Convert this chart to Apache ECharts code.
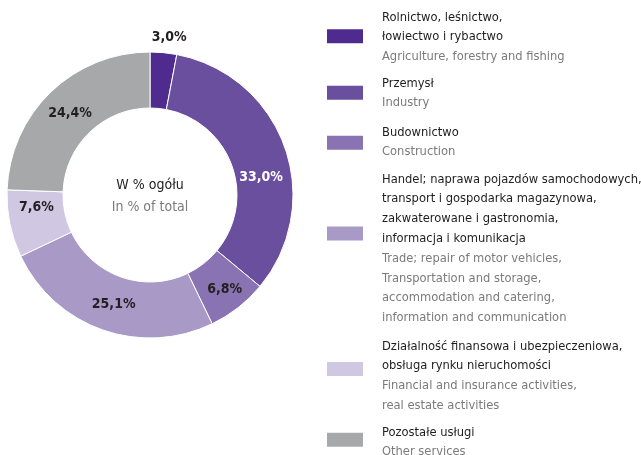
<!DOCTYPE html>
<html>
<head>
<meta charset="utf-8">
<script src="https://cdn.jsdelivr.net/npm/echarts@6/dist/echarts.min.js"></script>
<style>
  html, body { margin: 0; padding: 0; background: #fff; }
  #chart { width: 641px; height: 455px; }
</style>
</head>
<body>
<div id="chart"></div>
<script>
// Sectors: Polish names (legend lines), English names, shares in % and colours
const namesPl = [
  ['Rolnictwo, leśnictwo,', 'łowiectwo i rybactwo'],
  ['Przemysł'],
  ['Budownictwo'],
  ['Handel; naprawa pojazdów samochodowych,', 'transport i gospodarka magazynowa,', 'zakwaterowane i gastronomia,', 'informacja i komunikacja'],
  ['Działalność finansowa i ubezpieczeniowa,', 'obsługa rynku nieruchomości'],
  ['Pozostałe usługi']
];
const namesEn = [
  ['Agriculture, forestry and fishing'],
  ['Industry'],
  ['Construction'],
  ['Trade; repair of motor vehicles,', 'Transportation and storage,', 'accommodation and catering,', 'information and communication'],
  ['Financial and insurance activities,', 'real estate activities'],
  ['Other services']
];
const shares = [3.0, 33.0, 6.8, 25.1, 7.6, 24.4];
const colors = ['#4f2b8f', '#6a4f9f', '#8a73b2', '#a899c7', '#d0c8e2', '#a7a8aa'];

const centerTitlePl = 'W % ogółu';
const centerTitleEn = 'In % of total';

const FONT = '"DejaVu Sans Condensed", "Liberation Sans Narrow", sans-serif';
const LINE_H = 19.8;

const keys = namesPl.map(n => n.join(' '));
const fmt = v => v.toFixed(1).replace('.', ',') + '%';

// per-slice label tweaks
const labelTweaks = [
  { position: 'outside', offset: [-17, -13] },
  { color: '#ffffff', offset: [0, 22] },
  { offset: [2, 1] },
  { offset: [3, -2] },
  { offset: [2, -11] },
  { offset: [2, 3] }
];

const data = shares.map((v, i) => {
  const t = labelTweaks[i];
  const item = {
    name: keys[i],
    value: v,
    itemStyle: { color: colors[i] },
    label: Object.assign({}, t)
  };
  if (t.position === 'outside') {
    item.labelLine = { show: false, length: 2, length2: 0 };
  }
  return item;
});

// Legend blocks: top of each block and padding that sets where the swatch sits
const legendLayout = [
  { top: 10.7, pt: 1.6, pb: 0 },
  { top: 76.7, pt: 0.8, pb: 0 },
  { top: 125.7, pt: 0, pb: 1.2 },
  { top: 172.7, pt: 30, pb: 0 },
  { top: 339.7, pt: 14, pb: 0 },
  { top: 425.7, pt: 4.5, pb: 0 }
];

const legendText = name => {
  const i = keys.indexOf(name);
  const pl = namesPl[i].map(s => '{a|' + s + '}');
  const en = namesEn[i].map(s => '{b|' + s + '}');
  return pl.concat(en).join('\n');
};

const legends = keys.map((k, i) => ({
  orient: 'vertical',
  left: 325,
  top: legendLayout[i].top,
  padding: 0,
  itemWidth: 38,
  itemHeight: 16,
  icon: 'rect',
  selectedMode: false,
  data: [k],
  formatter: legendText,
  textStyle: {
    padding: [legendLayout[i].pt, 0, legendLayout[i].pb, 13],
    rich: {
      a: { fontFamily: FONT, fontSize: 12.8, color: '#1e1e1e', lineHeight: LINE_H },
      b: { fontFamily: FONT, fontSize: 12.8, color: '#7b7b7b', lineHeight: LINE_H }
    }
  }
}));

const chart = echarts.init(document.getElementById('chart'), null, { renderer: 'canvas' });
chart.setOption({
  animation: false,
  legend: legends,
  graphic: [
    {
      type: 'text', x: 150, y: 185,
      style: { text: centerTitlePl, font: '14px ' + FONT, fill: '#222', align: 'center', verticalAlign: 'middle' }
    },
    {
      type: 'text', x: 150, y: 207,
      style: { text: centerTitleEn, font: '14px ' + FONT, fill: '#7b7b7b', align: 'center', verticalAlign: 'middle' }
    }
  ],
  series: [{
    type: 'pie',
    center: [150, 195],
    radius: [87, 143],
    startAngle: 90,
    clockwise: true,
    avoidLabelOverlap: false,
    itemStyle: { borderColor: '#ffffff', borderWidth: 1 },
    label: {
      position: 'inside',
      formatter: p => fmt(p.value),
      fontFamily: FONT,
      fontSize: 14,
      fontWeight: 'bold',
      color: '#231f20'
    },
    emphasis: { disabled: true },
    data: data
  }]
});
</script>
</body>
</html>
